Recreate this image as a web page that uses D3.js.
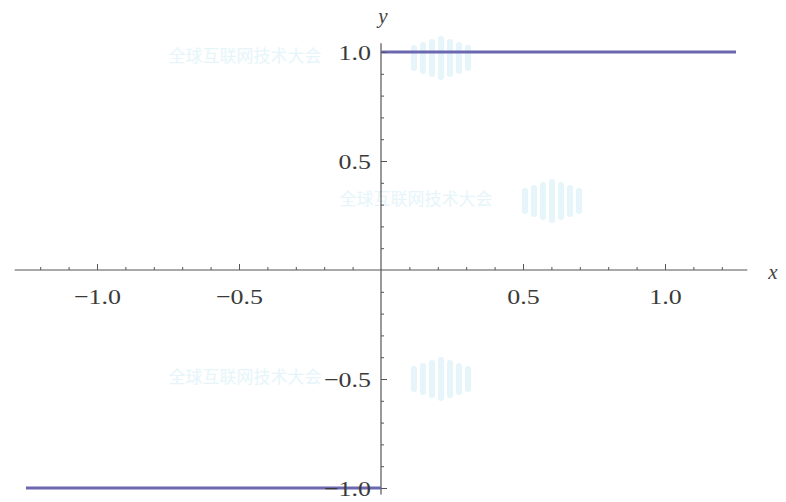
<!DOCTYPE html>
<html>
<head>
<meta charset="utf-8">
<script src="https://d3js.org/d3.v7.min.js"></script>
<style>
  html, body { margin: 0; padding: 0; background: #fff; }
  svg { display: block; }
</style>
</head>
<body>
<div id="chart"></div>
<script>
// sign(x) plotted from -1.25 to 1.25, drawn as two flat pieces
const segStart = [-1.25, 0];
const segEnd = [0, 1.25];
const segValue = [-1, 1];

const xMajor = [-1.0, -0.5, 0.5, 1.0];
const xLabels = ['\u22121.0', '\u22120.5', '0.5', '1.0'];
const yMajor = [-1.0, -0.5, 0.5, 1.0];
const yLabels = ['\u22121.0', '\u22120.5', '0.5', '1.0'];

const width = 786, height = 502;

const svg = d3.select('#chart')
    .append('svg')
    .attr('width', width)
    .attr('height', height);

// scales
const x = d3.scaleLinear().domain([-1.25, 1.25]).range([26, 736]);
const y = d3.scaleLinear().domain([-1, 1]).range([488, 52]);

const axisColor = '#555';
const labelFont = '"Liberation Serif", "DejaVu Serif", serif';
const stretch = 1.18;   // source picture is a bit wider than tall

// faint watermark, as in the source image
const marks = [
    { tx: 245, lx: 442, ty: 62 }, { tx: 416, lx: 553, ty: 205 }, { tx: 245, lx: 442, ty: 383 }
];
const wm = svg.append('g').attr('class', 'watermark');
marks.forEach(m => {
    wm.append('text')
        .attr('x', m.tx)
        .attr('y', m.ty)
        .attr('text-anchor', 'middle')
        .style('font-family', '"Noto Sans CJK SC", sans-serif')
        .style('font-size', '17px')
        .style('fill', '#e6f5fa')
        .text('全球互联网技术大会');
    [0, 1, 2, 3, 4, 5, 6].forEach(k => {
        const h = 44 - Math.abs(k - 3) * 6;
        wm.append('rect')
            .attr('x', m.lx - 31 + k * 9)
            .attr('y', m.ty - 4 - h / 2)
            .attr('width', 6)
            .attr('height', h)
            .attr('rx', 3)
            .style('fill', '#e5f5fa');
    });
});

// axis lines (slightly past the plot range, Mathematica style)
svg.append('line')
    .attr('x1', x(-1.29)).attr('x2', x(1.29))
    .attr('y1', y(0)).attr('y2', y(0))
    .style('stroke', axisColor).style('stroke-width', 1.2);

svg.append('line')
    .attr('x1', x(0)).attr('x2', x(0))
    .attr('y1', y(1.04)).attr('y2', y(-1.03))
    .style('stroke', axisColor).style('stroke-width', 1.2);

// x ticks: minor every 0.1, major every 0.5, pointing up
const xMinor = d3.range(-12, 13).map(d => d / 10).filter(d => d !== 0);
svg.append('g')
    .attr('transform', `translate(0,${y(0)})`)
    .call(d3.axisBottom(x).tickValues(xMinor).tickSize(-3).tickFormat(''))
    .call(g => g.select('.domain').remove())
    .call(g => g.selectAll('line').style('stroke', axisColor));

svg.append('g')
    .attr('transform', `translate(0,${y(0)})`)
    .call(d3.axisBottom(x).tickValues(xMajor).tickSize(-6).tickPadding(18)
        .tickFormat((d, i) => xLabels[i]))
    .call(g => g.select('.domain').remove())
    .call(g => g.selectAll('line').style('stroke', axisColor))
    .call(g => g.selectAll('text')
        .attr('transform', `scale(${stretch},1)`)
        .style('font-family', labelFont)
        .style('font-size', '22px')
        .style('fill', '#3a3a3a'));

// y ticks, pointing right, labels on the left
const yMinor = d3.range(-10, 11).map(d => d / 10).filter(d => d !== 0);
svg.append('g')
    .attr('transform', `translate(${x(0)},0)`)
    .call(d3.axisLeft(y).tickValues(yMinor).tickSize(-3).tickFormat(''))
    .call(g => g.select('.domain').remove())
    .call(g => g.selectAll('line').style('stroke', axisColor));

// the function itself
svg.append('g')
    .selectAll('line')
    .data(segValue)
    .join('line')
    .attr('x1', (d, i) => x(segStart[i]))
    .attr('x2', (d, i) => x(segEnd[i]))
    .attr('y1', d => y(d))
    .attr('y2', d => y(d))
    .style('stroke', '#6c68b0')
    .style('stroke-width', 3.2);

svg.append('g')
    .attr('transform', `translate(${x(0)},0)`)
    .call(d3.axisLeft(y).tickValues(yMajor).tickSize(-6).tickPadding(9)
        .tickFormat((d, i) => yLabels[i]))
    .call(g => g.select('.domain').remove())
    .call(g => g.selectAll('line').style('stroke', axisColor))
    .call(g => g.selectAll('text')
        .attr('x', -10 / stretch)
        .attr('dy', '0.36em')
        .attr('transform', `scale(${stretch},1)`)
        .style('font-family', labelFont)
        .style('font-size', '22px')
        .style('fill', '#3a3a3a'));

// axis names
svg.append('text')
    .attr('x', 773)
    .attr('y', 279)
    .attr('text-anchor', 'middle')
    .style('font-family', labelFont)
    .style('font-style', 'italic')
    .style('font-size', '21px')
    .style('fill', '#444')
    .text('x');

svg.append('text')
    .attr('x', 383)
    .attr('y', 23)
    .attr('text-anchor', 'middle')
    .style('font-family', labelFont)
    .style('font-style', 'italic')
    .style('font-size', '21px')
    .style('fill', '#444')
    .text('y');
</script>
</body>
</html>
